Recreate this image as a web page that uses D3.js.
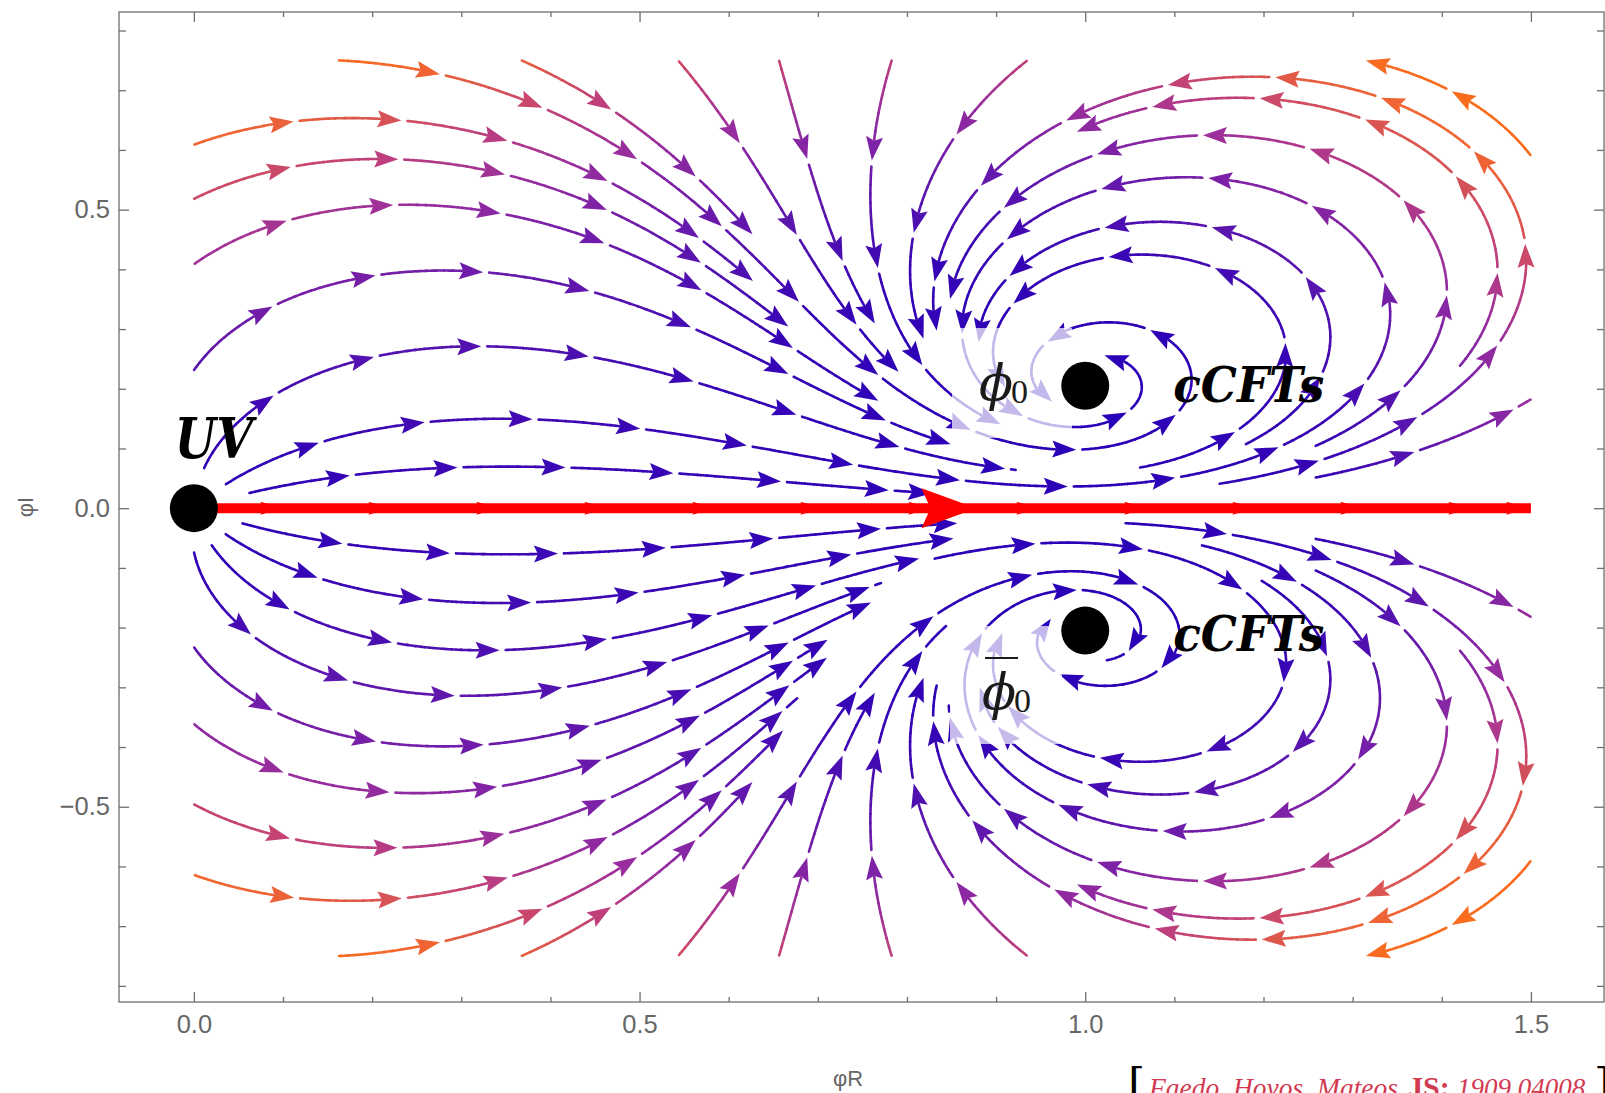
<!DOCTYPE html>
<html><head><meta charset="utf-8">
<script src="https://cdn.jsdelivr.net/npm/d3@7/dist/d3.min.js"></script>
<style>html,body{margin:0;padding:0;background:#fff;overflow:hidden}</style>
</head><body>
<script>
// ---------------- data ----------------
const xDomain = [-0.084, 1.582];
const yDomain = [-0.827, 0.831];
const flowRegionX = [0, 1.5];
const flowRegionY = [-0.75, 0.75];
// fixed points of the flow (phiR, phiI)
const fixedRe = [0, 1.0, 1.0];
const fixedIm = [0, 0.205, -0.205];
const fixedLabels = ["UV", "cCFTs", "cCFTs"];
const fixedStopPx = [40, 36, 36];
// streamline seed points (phiR, phiI)
const seedR = [0.137,0.165,0.144,0.127,0.127,0.127,0.127,0.253,0.455,0.471,0.605,0.699,0.759,0.830,0.941,0.923,0.961,0.904,0.979,1.420,1.417,1.368,1.308,1.174,0.960,0.960,1.390,1.275,1.338,1.074,1.126,1.120,1.229,1.011,
               0.165,0.249,0.244,0.244,0.305,0.088,0.108,0.141,0.253,0.455,0.471,0.605,0.699,0.759,0.830,0.941,0.923,0.961,0.904,0.979,1.420,1.417,1.368,1.308,1.174,0.960,0.960,1.390,1.275,1.338,1.074,1.126,1.120,1.229,1.011];
const seedI = [0.108,0.053,0.228,0.362,0.490,0.576,0.650,0.734,0.461,0.665,0.628,0.532,0.532,0.561,0.616,0.521,0.490,0.381,0.293,0.691,0.554,0.493,0.426,0.381,0.093,0.038,0.105,0.285,0.285,0.425,0.537,0.679,0.679,0.139,
               -0.059,-0.151,-0.230,-0.309,-0.398,-0.436,-0.553,-0.656,-0.734,-0.461,-0.665,-0.628,-0.532,-0.532,-0.561,-0.616,-0.521,-0.490,-0.381,-0.293,-0.691,-0.554,-0.493,-0.426,-0.381,-0.093,-0.038,-0.105,-0.285,-0.285,-0.425,-0.537,-0.679,-0.679,-0.139];
// colour by flow speed
const speedStops = [0, 0.15, 0.26, 0.365, 0.48, 0.616, 0.76, 0.85, 1.1];
const colorStops = ["#2800b8","#3705b5","#5a15ae","#7a20a8","#9b2f9c","#c0407a","#e05a48","#f26630","#ff7010"];
const xTickValues = [0, 0.5, 1.0, 1.5];
const xTickLabels = ["0.0","0.5","1.0","1.5"];
const xMinor = [0.1,0.2,0.3,0.4,0.6,0.7,0.8,0.9,1.1,1.2,1.3,1.4];
const yTickValues = [-0.5, 0, 0.5];
const yTickLabels = ["\u22120.5","0.0","0.5"];
const yMinor = [-0.8,-0.7,-0.6,-0.4,-0.3,-0.2,-0.1,0.1,0.2,0.3,0.4,0.6,0.7,0.8];
const axisFlowStart = -0.015, axisFlowEnd = 1.5, bigArrowTip = 0.878;
const citation = ["Faedo, Hoyos, Mateos", "JS:", "1909.04008"];

// ---------------- setup ----------------
const svg = d3.select("body").append("svg").attr("width",1605).attr("height",1093);
const x = d3.scaleLinear().domain(xDomain).range([119,1604]);
const y = d3.scaleLinear().domain(yDomain).range([1002,12]);
const kx = x(1)-x(0), ky = y(0)-y(1);
const color = d3.scaleLinear().domain(speedStops).range(colorStops).interpolate(d3.interpolateRgb).clamp(true);

function field(a,b){let re=1,im=0;for(let i=0;i<fixedRe.length;i++){const u=a-fixedRe[i],v=b-fixedIm[i];const r=re*u-im*v,m=re*v+im*u;re=r;im=m;}return [re,im];}
function speedPx(p){const f=field(x.invert(p[0]),y.invert(p[1]));return Math.hypot(f[0],f[1]);}
function dir(sx,sy,sgn){const f=field(x.invert(sx),y.invert(sy));const vx=f[0]*kx,vy=-f[1]*ky;const n=Math.hypot(vx,vy);if(n<1e-12)return null;return [sgn*vx/n,sgn*vy/n];}
function rk4(p,h,s){const k1=dir(p[0],p[1],s);if(!k1)return null;const k2=dir(p[0]+h/2*k1[0],p[1]+h/2*k1[1],s);if(!k2)return null;const k3=dir(p[0]+h/2*k2[0],p[1]+h/2*k2[1],s);if(!k3)return null;const k4=dir(p[0]+h*k3[0],p[1]+h*k3[1],s);if(!k4)return null;return [p[0]+h/6*(k1[0]+2*k2[0]+2*k3[0]+k4[0]),p[1]+h/6*(k1[1]+2*k2[1]+2*k3[1]+k4[1])];}

const H=1.5, DTEST=15, DSEED=24, SELFGAP=60, MAXLEN=2600;
const cell=DTEST, grid=new Map();
function addPt(p,id,s){const k=Math.floor(p[0]/cell)+","+Math.floor(p[1]/cell);if(!grid.has(k))grid.set(k,[]);grid.get(k).push([p[0],p[1],id,s]);}
function near(p,id,s,d){const i=Math.floor(p[0]/cell),j=Math.floor(p[1]/cell),r=Math.ceil(d/cell);
  for(let a=i-r;a<=i+r;a++)for(let b=j-r;b<=j+r;b++){const L=grid.get(a+","+b);if(!L)continue;
    for(const q of L){if(q[2]===id&&Math.abs(q[3]-s)<SELFGAP)continue;if((q[0]-p[0])**2+(q[1]-p[1])**2<d*d)return true;}}
  return false;}
function inside(p){const X=x.invert(p[0]),Y=y.invert(p[1]);return X>=flowRegionX[0]&&X<=flowRegionX[1]&&Y>=flowRegionY[0]&&Y<=flowRegionY[1];}
function nearFixed(p){for(let i=0;i<fixedRe.length;i++){if(Math.hypot(p[0]-x(fixedRe[i]),p[1]-y(fixedIm[i]))<fixedStopPx[i])return true;}return false;}
function traceHalf(seed,sgn,id){const out=[];let p=seed,s=0;
  while(s<MAXLEN){const q=rk4(p,H,sgn);if(!q)break;s+=H;
    if(!inside(q)||nearFixed(q)||near(q,id,sgn*s,DTEST))break;
    out.push(q);addPt(q,id,sgn*s);p=q;}
  return out;}

// the real axis is itself a flow line
for(let X=axisFlowStart; X<=axisFlowEnd; X+=0.002){addPt([x(X),y(0)],-1,0);}

const lines=[];
seedR.forEach((r,i)=>{
  const seed=[x(r),y(seedI[i])];
  if(!inside(seed)||nearFixed(seed)||near(seed,-99,0,DSEED))return;
  addPt(seed,i,0);
  const back=traceHalf(seed,-1,i);
  const fwd=traceHalf(seed,1,i);
  lines.push(back.reverse().concat([seed],fwd));
});

// ---------------- drawing ----------------
const PIECE=108, GAP=6, SUB=9, MINARROW=34;
const gStream=svg.append("g");
function drawStream(pts,g,colFn,width,AL,AW,NOTCH){
  const n=pts.length;if(n<3)return;
  const cum=[0];for(let i=1;i<n;i++)cum.push(cum[i-1]+Math.hypot(pts[i][0]-pts[i-1][0],pts[i][1]-pts[i-1][1]));
  const L=cum[n-1];
  const at=s=>{let lo=0,hi=n-1;while(hi-lo>1){const m=(lo+hi)>>1;if(cum[m]<=s)lo=m;else hi=m;}const t=(s-cum[lo])/((cum[hi]-cum[lo])||1);return [pts[lo][0]+t*(pts[hi][0]-pts[lo][0]),pts[lo][1]+t*(pts[hi][1]-pts[lo][1])];};
  for(let k=0;k*PIECE<L;k++){
    const s0=k*PIECE, s1=Math.min((k+1)*PIECE-GAP,L), len=s1-s0;
    if(len<4)continue;
    const arrow=len>=MINARROW;
    const sEnd=arrow?s1-AL+3:s1;
    if(width>0){
      for(let s=s0;s<sEnd-0.01;s+=SUB){
        const e=Math.min(s+SUB,sEnd);
        const seg=[at(s)];for(let i=0;i<n;i++){if(cum[i]>s&&cum[i]<e)seg.push(pts[i]);}seg.push(at(e));
        g.append("path").attr("d",d3.line()(seg)).attr("fill","none")
         .attr("stroke",colFn(at((s+e)/2))).attr("stroke-width",width).attr("stroke-linecap","round");
      }
    }
    if(arrow){
      const T=at(s1),B=at(s1-AL);const dx=T[0]-B[0],dy=T[1]-B[1],dl=Math.hypot(dx,dy)||1;const ux=dx/dl,uy=dy/dl,nx=-uy,ny=ux;
      g.append("path").attr("d",d3.line()([T,[B[0]+nx*AW,B[1]+ny*AW],[B[0]+ux*NOTCH,B[1]+uy*NOTCH],[B[0]-nx*AW,B[1]-ny*AW]])+"Z")
       .attr("fill",colFn(at(s1-AL/2)));
    }
  }
}
lines.forEach(pts=>drawStream(pts,gStream,p=>color(speedPx(p)),2.6,24,8.5,4));

// fading label backgrounds
const gFade=svg.append("g");
gFade.append("rect").attr("x",952).attr("y",328).attr("width",120).attr("height",110).attr("fill","#fff").attr("opacity",0.72);
gFade.append("rect").attr("x",950).attr("y",626).attr("width",112).attr("height",118).attr("fill","#fff").attr("opacity",0.72);

// red real-axis flow
const gRed=svg.append("g");
gRed.append("line").attr("x1",x(0)).attr("x2",x(axisFlowEnd)).attr("y1",y(0)).attr("y2",y(0)).attr("stroke","#ff0000").attr("stroke-width",10);
const axisPts=d3.range(axisFlowStart,axisFlowEnd,0.004).map(v=>[x(v),y(0)]);
drawStream(axisPts,gRed,()=>"#ff0000",0,22,6.5,3);
gRed.append("path").attr("d",d3.line()([[x(bigArrowTip),y(0)],[x(bigArrowTip)-55,y(0)-20],[x(bigArrowTip)-46,y(0)],[x(bigArrowTip)-55,y(0)+20]])+"Z").attr("fill","#ff0000");

// frame and axes
const gAx=svg.append("g").attr("font-family","'Liberation Sans', Arial, sans-serif");
gAx.append("rect").attr("x",119).attr("y",12).attr("width",1604-119).attr("height",1002-12).attr("fill","none").attr("stroke","#6e6e6e").attr("stroke-width",1.3);
function styleAxis(g){g.select(".domain").remove();g.selectAll(".tick line").attr("stroke","#6e6e6e").attr("stroke-width",1.3);g.selectAll(".tick text").attr("fill","#666").attr("font-size",25.5).attr("font-family","'Liberation Sans', Arial, sans-serif");}
gAx.append("g").attr("transform","translate(0,1002)").call(d3.axisBottom(x).tickValues(xTickValues).tickFormat((d,i)=>xTickLabels[i]).tickSize(-10).tickPadding(13)).call(styleAxis);
gAx.append("g").attr("transform","translate(0,1002)").call(d3.axisBottom(x).tickValues(xMinor).tickFormat("").tickSize(-5)).call(styleAxis);
gAx.append("g").attr("transform","translate(0,12)").call(d3.axisTop(x).tickValues(xTickValues).tickFormat("").tickSize(-10)).call(styleAxis);
gAx.append("g").attr("transform","translate(0,12)").call(d3.axisTop(x).tickValues(xMinor).tickFormat("").tickSize(-5)).call(styleAxis);
gAx.append("g").attr("transform","translate(119,0)").call(d3.axisLeft(y).tickValues(yTickValues).tickFormat((d,i)=>yTickLabels[i]).tickSize(-10).tickPadding(9)).call(styleAxis);
gAx.append("g").attr("transform","translate(119,0)").call(d3.axisLeft(y).tickValues(yMinor).tickFormat("").tickSize(-7)).call(styleAxis);
gAx.append("g").attr("transform","translate(1604,0)").call(d3.axisRight(y).tickValues(yTickValues).tickFormat("").tickSize(-10)).call(styleAxis);
gAx.append("g").attr("transform","translate(1604,0)").call(d3.axisRight(y).tickValues(yMinor).tickFormat("").tickSize(-7)).call(styleAxis);
gAx.append("text").attr("x",848).attr("y",1086).attr("text-anchor","middle").attr("font-size",22).attr("fill","#666").text("\u03c6R");
gAx.append("text").attr("transform","translate(33,507) rotate(-90)").attr("text-anchor","middle").attr("font-size",22).attr("fill","#666").text("\u03c6I");

// fixed points
const gPts=svg.append("g");
fixedRe.forEach((r,i)=>gPts.append("circle").attr("cx",x(r)).attr("cy",y(fixedIm[i])).attr("r",24).attr("fill","#000"));

// labels
const gLab=svg.append("g");
gLab.append("text").attr("x",x(fixedRe[0])-19).attr("y",y(fixedIm[0])-50).attr("font-family","'DejaVu Serif', serif").attr("font-weight","bold").attr("font-style","italic").attr("font-size",56).attr("textLength",78).attr("lengthAdjust","spacingAndGlyphs").text(fixedLabels[0]);
[1,2].forEach((i,j)=>{
  gLab.append("text").attr("x",x(fixedRe[i])+88).attr("y",y(fixedIm[i])+(j===0?16:20)).attr("font-family","'DejaVu Serif', serif").attr("font-weight","bold").attr("font-style","italic").attr("font-size",48).attr("textLength",151).attr("lengthAdjust","spacingAndGlyphs").text(fixedLabels[i]);
});
function phiLabel(px,py){
  const t=gLab.append("text").attr("x",px).attr("y",py).attr("fill","#1a1a1a");
  t.append("tspan").attr("font-family","'DejaVu Serif', serif").attr("font-style","italic").attr("font-size",50).text("\u03d5");
  t.append("tspan").attr("font-family","'Liberation Serif', serif").attr("font-size",34).attr("dx",-2).attr("dy",3).text("0");
}
phiLabel(979,400);
gLab.append("line").attr("x1",985).attr("x2",1018).attr("y1",658).attr("y2",658).attr("stroke","#1a1a1a").attr("stroke-width",2);
phiLabel(982,709);

// citation
const gCit=svg.append("g");
gCit.append("text").attr("x",1128).attr("y",1100).attr("font-family","'DejaVu Serif', serif").attr("font-size",44).attr("fill","#000").text("[");
gCit.append("text").attr("x",1149).attr("y",1097).attr("font-family","'Liberation Serif', serif").attr("font-style","italic").attr("font-size",27.5).attr("fill","#d23a52").text(citation[0]);
gCit.append("text").attr("x",1408).attr("y",1097).attr("font-family","'Liberation Serif', serif").attr("font-weight","bold").attr("font-size",30).attr("fill","#d23a52").text(citation[1]);
gCit.append("text").attr("x",1457).attr("y",1097).attr("font-family","'Liberation Serif', serif").attr("font-style","italic").attr("font-size",27).attr("fill","#d23a52").text(citation[2]);
gCit.append("text").attr("x",1594).attr("y",1100).attr("font-family","'DejaVu Serif', serif").attr("font-size",44).attr("fill","#000").text("]");
</script>
</body></html>
